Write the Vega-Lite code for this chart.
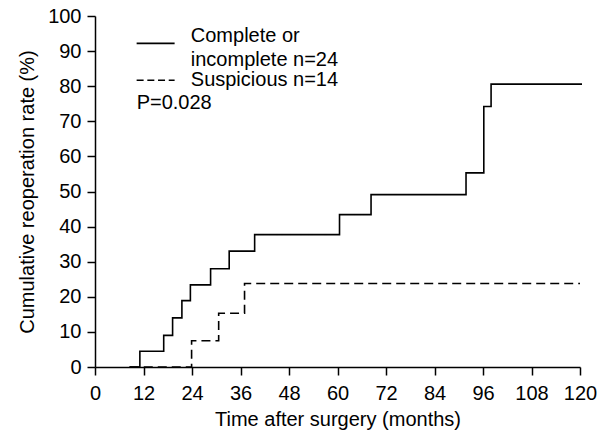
{
  "$schema": "https://vega.github.io/schema/vega-lite/v6.json",
  "width": 485,
  "height": 351,
  "autosize": {"type": "none"},
  "padding": {"left": 95, "top": 16, "right": 28, "bottom": 70},
  "background": "white",
  "config": {
    "view": {"stroke": null},
    "font": "Liberation Sans",
    "axis": {
      "domainColor": "black",
      "domainWidth": 1.5,
      "tickColor": "black",
      "tickWidth": 1.5,
      "tickSize": 8,
      "labelFontSize": 20,
      "labelColor": "black",
      "titleFontSize": 20,
      "titleFontWeight": "normal",
      "titleColor": "black",
      "grid": false,
      "labelOverlap": false,
      "labelFlush": false,
      "labelFont": "Liberation Sans",
      "titleFont": "Liberation Sans"
    }
  },
  "datasets": {
    "curves": [
      {"group": "Complete or incomplete n=24", "month": 8.5, "rate": 0},
      {"group": "Complete or incomplete n=24", "month": 11.1, "rate": 4.5},
      {"group": "Complete or incomplete n=24", "month": 17.0, "rate": 9.0},
      {"group": "Complete or incomplete n=24", "month": 19.2, "rate": 14.0},
      {"group": "Complete or incomplete n=24", "month": 21.5, "rate": 18.9},
      {"group": "Complete or incomplete n=24", "month": 23.6, "rate": 23.4},
      {"group": "Complete or incomplete n=24", "month": 28.6, "rate": 28.0},
      {"group": "Complete or incomplete n=24", "month": 33.2, "rate": 33.0},
      {"group": "Complete or incomplete n=24", "month": 39.5, "rate": 37.7},
      {"group": "Complete or incomplete n=24", "month": 60.5, "rate": 43.4},
      {"group": "Complete or incomplete n=24", "month": 68.3, "rate": 49.1},
      {"group": "Complete or incomplete n=24", "month": 91.8, "rate": 55.3},
      {"group": "Complete or incomplete n=24", "month": 96.2, "rate": 74.2},
      {"group": "Complete or incomplete n=24", "month": 98.0, "rate": 80.6},
      {"group": "Complete or incomplete n=24", "month": 120.5, "rate": 80.6},
      {"group": "Suspicious n=14", "month": 8.6, "rate": 0},
      {"group": "Suspicious n=14", "month": 23.9, "rate": 7.5},
      {"group": "Suspicious n=14", "month": 30.6, "rate": 15.3},
      {"group": "Suspicious n=14", "month": 37.0, "rate": 23.8},
      {"group": "Suspicious n=14", "month": 120, "rate": 23.8}
    ]
  },
  "layer": [
    {
      "data": {"name": "curves"},
      "mark": {"type": "line", "interpolate": "step-after", "color": "black", "strokeWidth": 1.6, "clip": false},
      "encoding": {
        "x": {
          "field": "month", "type": "quantitative",
          "scale": {"domain": [0, 120], "nice": false},
          "axis": {"values": [0, 12, 24, 36, 48, 60, 72, 84, 96, 108, 120], "tickCount": 30, "title": "Time after surgery (months)", "labelPadding": 8, "titlePadding": 6}
        },
        "y": {
          "field": "rate", "type": "quantitative",
          "scale": {"domain": [0, 100], "nice": false},
          "axis": {"values": [0, 10, 20, 30, 40, 50, 60, 70, 80, 90, 100], "tickCount": 30, "title": "Cumulative reoperation rate (%)", "labelPadding": 6, "titlePadding": 10}
        },
        "strokeDash": {
          "field": "group", "type": "nominal",
          "scale": {"domain": ["Complete or incomplete n=24", "Suspicious n=14"], "range": [[1, 0], [9, 5]]},
          "legend": null
        }
      }
    },
    {
      "data": {"values": [{}]},
      "mark": {"type": "rule", "color": "black", "strokeWidth": 1.6},
      "encoding": {
        "x": {"datum": 10.3, "type": "quantitative"},
        "x2": {"datum": 19.7},
        "y": {"datum": 92.2, "type": "quantitative"}
      }
    },
    {
      "data": {"values": [{}]},
      "mark": {"type": "rule", "color": "black", "strokeWidth": 1.6, "strokeDash": [7, 3.7]},
      "encoding": {
        "x": {"datum": 10.3, "type": "quantitative"},
        "x2": {"datum": 19.7},
        "y": {"datum": 81.7, "type": "quantitative"}
      }
    },
    {
      "data": {"values": [{}]},
      "mark": {"type": "text", "align": "left", "baseline": "alphabetic", "fontSize": 20, "lineHeight": 24, "font": "Liberation Sans", "color": "black", "text": ["Complete or", "incomplete n=24"]},
      "encoding": {
        "x": {"datum": 23.7, "type": "quantitative"},
        "y": {"datum": 92.7, "type": "quantitative"}
      }
    },
    {
      "data": {"values": [{}]},
      "mark": {"type": "text", "align": "left", "baseline": "middle", "fontSize": 20, "font": "Liberation Sans", "color": "black", "text": "Suspicious n=14"},
      "encoding": {
        "x": {"datum": 23.7, "type": "quantitative"},
        "y": {"datum": 81.8, "type": "quantitative"}
      }
    },
    {
      "data": {"values": [{}]},
      "mark": {"type": "text", "align": "left", "baseline": "middle", "fontSize": 20, "font": "Liberation Sans", "color": "black", "text": "P=0.028"},
      "encoding": {
        "x": {"datum": 10.3, "type": "quantitative"},
        "y": {"datum": 75.1, "type": "quantitative"}
      }
    }
  ]
}
